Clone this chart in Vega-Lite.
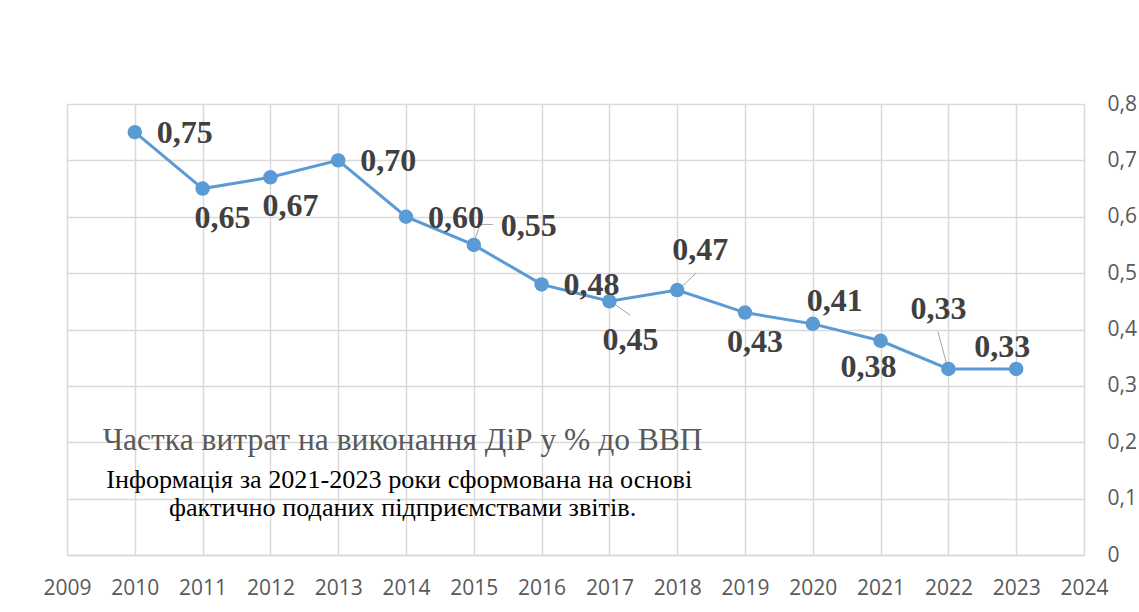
{
  "$schema": "https://vega.github.io/schema/vega-lite/v6.json",
  "width": 1017,
  "height": 451,
  "autosize": "none",
  "padding": {"left": 67, "top": 104, "right": 55, "bottom": 57},
  "background": "white",
  "config": {
    "view": {"stroke": null},
    "locale": {
      "number": {"decimal": ",", "thousands": "\u00a0", "grouping": [3], "currency": ["", " грн"]}
    }
  },
  "datasets": {
    "rd": [
      {"year": 2010, "value": 0.75},
      {"year": 2011, "value": 0.65},
      {"year": 2012, "value": 0.67},
      {"year": 2013, "value": 0.70},
      {"year": 2014, "value": 0.60},
      {"year": 2015, "value": 0.55},
      {"year": 2016, "value": 0.48},
      {"year": 2017, "value": 0.45},
      {"year": 2018, "value": 0.47},
      {"year": 2019, "value": 0.43},
      {"year": 2020, "value": 0.41},
      {"year": 2021, "value": 0.38},
      {"year": 2022, "value": 0.33},
      {"year": 2023, "value": 0.33}
    ],
    "note1": [{"note": "Частка витрат на виконання ДіР у % до ВВП"}],
    "note2": [{"note": "Інформація за 2021-2023 роки сформована на основі"}],
    "note3": [{"note": "фактично поданих підприємствами звітів."}]
  },
  "layer": [
    {
      "data": {"name": "rd"},
      "encoding": {
        "x": {
          "field": "year", "type": "quantitative",
          "scale": {"domain": [2009, 2024], "nice": false, "zero": false},
          "axis": {
            "orient": "bottom", "title": null, "format": "d",
            "values": [2009,2010,2011,2012,2013,2014,2015,2016,2017,2018,2019,2020,2021,2022,2023,2024],
            "domain": true, "domainColor": "#d9d9d9", "domainWidth": 1.5,
            "ticks": false, "labelFont": "Open Sans", "labelFontSize": 21, "labelColor": "#595959",
            "labelPadding": 22, "labelFlush": false, "labelOverlap": false,
            "grid": true, "gridColor": "#d9d9d9", "gridWidth": 1.5
          }
        },
        "y": {
          "field": "value", "type": "quantitative",
          "scale": {"domain": [0, 0.8], "nice": false},
          "axis": {
            "orient": "right", "title": null, "format": ".1~f",
            "values": [0, 0.1, 0.2, 0.3, 0.4, 0.5, 0.6, 0.7, 0.8],
            "domain": false, "ticks": false, "labelFont": "Open Sans", "labelFontSize": 21,
            "labelColor": "#595959", "labelPadding": 23, "labelAlign": "left", "labelFlush": false,
            "grid": true, "gridColor": "#d9d9d9", "gridWidth": 1.5
          }
        }
      },
      "layer": [
        {
          "transform": [{"filter": "datum.year == 2015"}],
          "mark": {"type": "rule", "color": "#a6a6a6", "strokeWidth": 1, "xOffset": 0, "yOffset": -2, "x2Offset": 6, "y2Offset": -20},
          "encoding": {"x2": {"field": "year"}, "y2": {"field": "value"}}
        },
        {
          "transform": [{"filter": "datum.year == 2015"}],
          "mark": {"type": "rule", "color": "#a6a6a6", "strokeWidth": 1, "xOffset": 6, "yOffset": -20.5, "x2Offset": 19, "y2Offset": -20.5},
          "encoding": {"x2": {"field": "year"}, "y2": {"field": "value"}}
        },
        {
          "transform": [{"filter": "datum.year == 2017"}],
          "mark": {"type": "rule", "color": "#a6a6a6", "strokeWidth": 1, "xOffset": 4, "yOffset": 2, "x2Offset": 21, "y2Offset": 14},
          "encoding": {"x2": {"field": "year"}, "y2": {"field": "value"}}
        },
        {
          "transform": [{"filter": "datum.year == 2018"}],
          "mark": {"type": "rule", "color": "#a6a6a6", "strokeWidth": 1, "xOffset": 1, "yOffset": 0, "x2Offset": 19, "y2Offset": -17},
          "encoding": {"x2": {"field": "year"}, "y2": {"field": "value"}}
        },
        {
          "transform": [{"filter": "datum.year == 2022"}],
          "mark": {"type": "rule", "color": "#a6a6a6", "strokeWidth": 1, "xOffset": -1, "yOffset": -2, "x2Offset": -10.5, "y2Offset": -37.5},
          "encoding": {"x2": {"field": "year"}, "y2": {"field": "value"}}
        },
        {
          "mark": {"type": "line", "color": "#5b9bd5", "strokeWidth": 3}
        },
        {
          "mark": {"type": "point", "filled": true, "shape": "circle", "size": 210, "color": "#5b9bd5", "opacity": 1}
        },
        {
          "transform": [{"filter": {"field": "year", "oneOf": [2010, 2013, 2014, 2016]}}],
          "mark": {"type": "text", "font": "Liberation Serif", "fontWeight": "bold", "fontSize": 32, "color": "#404040", "align": "center", "baseline": "middle", "dx": 50, "dy": 1},
          "encoding": {"text": {"field": "value", "type": "quantitative", "format": ".2f"}}
        },
        {
          "transform": [{"filter": {"field": "year", "oneOf": [2011, 2012]}}],
          "mark": {"type": "text", "font": "Liberation Serif", "fontWeight": "bold", "fontSize": 32, "color": "#404040", "align": "center", "baseline": "middle", "dx": 20, "dy": 29},
          "encoding": {"text": {"field": "value", "type": "quantitative", "format": ".2f"}}
        },
        {
          "transform": [{"filter": "datum.year == 2015"}],
          "mark": {"type": "text", "font": "Liberation Serif", "fontWeight": "bold", "fontSize": 32, "color": "#404040", "align": "center", "baseline": "middle", "dx": 55, "dy": -19},
          "encoding": {"text": {"field": "value", "type": "quantitative", "format": ".2f"}}
        },
        {
          "transform": [{"filter": "datum.year == 2017"}],
          "mark": {"type": "text", "font": "Liberation Serif", "fontWeight": "bold", "fontSize": 32, "color": "#404040", "align": "center", "baseline": "middle", "dx": 21, "dy": 39},
          "encoding": {"text": {"field": "value", "type": "quantitative", "format": ".2f"}}
        },
        {
          "transform": [{"filter": "datum.year == 2018"}],
          "mark": {"type": "text", "font": "Liberation Serif", "fontWeight": "bold", "fontSize": 32, "color": "#404040", "align": "center", "baseline": "middle", "dx": 23, "dy": -40},
          "encoding": {"text": {"field": "value", "type": "quantitative", "format": ".2f"}}
        },
        {
          "transform": [{"filter": "datum.year == 2019"}],
          "mark": {"type": "text", "font": "Liberation Serif", "fontWeight": "bold", "fontSize": 32, "color": "#404040", "align": "center", "baseline": "middle", "dx": 10, "dy": 29},
          "encoding": {"text": {"field": "value", "type": "quantitative", "format": ".2f"}}
        },
        {
          "transform": [{"filter": "datum.year == 2020"}],
          "mark": {"type": "text", "font": "Liberation Serif", "fontWeight": "bold", "fontSize": 32, "color": "#404040", "align": "center", "baseline": "middle", "dx": 22, "dy": -23},
          "encoding": {"text": {"field": "value", "type": "quantitative", "format": ".2f"}}
        },
        {
          "transform": [{"filter": "datum.year == 2021"}],
          "mark": {"type": "text", "font": "Liberation Serif", "fontWeight": "bold", "fontSize": 32, "color": "#404040", "align": "center", "baseline": "middle", "dx": -12, "dy": 26},
          "encoding": {"text": {"field": "value", "type": "quantitative", "format": ".2f"}}
        },
        {
          "transform": [{"filter": "datum.year == 2022"}],
          "mark": {"type": "text", "font": "Liberation Serif", "fontWeight": "bold", "fontSize": 32, "color": "#404040", "align": "center", "baseline": "middle", "dx": -10, "dy": -60},
          "encoding": {"text": {"field": "value", "type": "quantitative", "format": ".2f"}}
        },
        {
          "transform": [{"filter": "datum.year == 2023"}],
          "mark": {"type": "text", "font": "Liberation Serif", "fontWeight": "bold", "fontSize": 32, "color": "#404040", "align": "center", "baseline": "middle", "dx": -14, "dy": -22},
          "encoding": {"text": {"field": "value", "type": "quantitative", "format": ".2f"}}
        }
      ]
    },
    {
      "data": {"name": "note1"},
      "mark": {"type": "text", "font": "Liberation Serif", "fontSize": 31.5, "color": "#595959", "align": "center", "baseline": "alphabetic"},
      "encoding": {
        "x": {"datum": 2013.95, "type": "quantitative"},
        "y": {"datum": 0.1862, "type": "quantitative"},
        "text": {"field": "note", "type": "nominal"}
      }
    },
    {
      "data": {"name": "note2"},
      "mark": {"type": "text", "font": "Liberation Serif", "fontSize": 26.2, "color": "#000000", "align": "center", "baseline": "alphabetic"},
      "encoding": {
        "x": {"datum": 2013.9, "type": "quantitative"},
        "y": {"datum": 0.1195, "type": "quantitative"},
        "text": {"field": "note", "type": "nominal"}
      }
    },
    {
      "data": {"name": "note3"},
      "mark": {"type": "text", "font": "Liberation Serif", "fontSize": 26.2, "color": "#000000", "align": "center", "baseline": "alphabetic"},
      "encoding": {
        "x": {"datum": 2013.95, "type": "quantitative"},
        "y": {"datum": 0.0685, "type": "quantitative"},
        "text": {"field": "note", "type": "nominal"}
      }
    }
  ]
}
